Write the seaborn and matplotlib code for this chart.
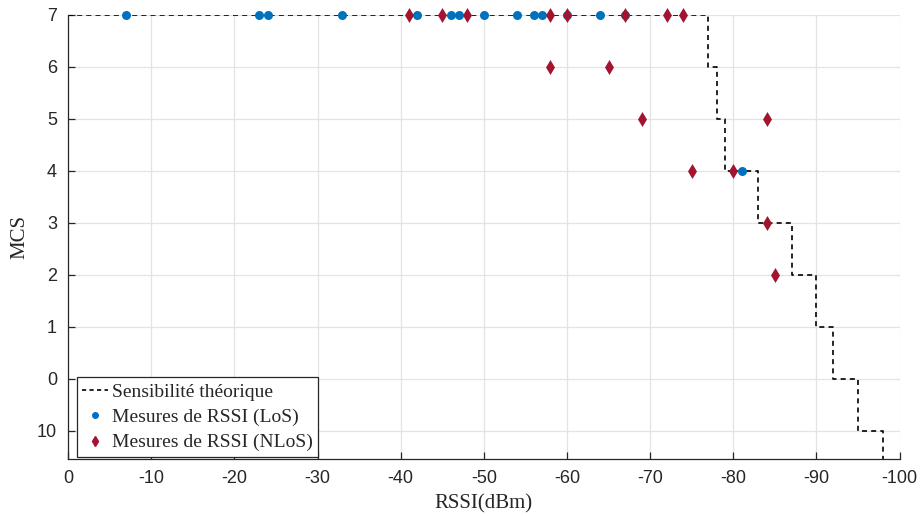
import matplotlib
matplotlib.use("Agg")
import matplotlib.pyplot as plt
import seaborn as sns
import pandas as pd
from matplotlib.lines import Line2D

# Theoretical sensitivity steps (RSSI threshold, MCS level index)
sens_rssi = [0, -77, -78, -79, -83, -87, -90, -92, -95, -98]
sens_mcs = [7, 6, 5, 4, 3, 2, 1, 0, -1, -1.6]

# LoS measurements
los_rssi = [-7, -23, -24, -33, -42, -46, -47, -50, -54, -56, -57, -60, -64, -67, -81]
los_mcs = [7, 7, 7, 7, 7, 7, 7, 7, 7, 7, 7, 7, 7, 7, 4]

# NLoS measurements
nlos_rssi = [-41, -45, -48, -58, -60, -67, -72, -74, -58, -65, -69, -84, -75, -80, -84, -85]
nlos_mcs = [7, 7, 7, 7, 7, 7, 7, 7, 6, 6, 5, 5, 4, 4, 3, 2]

xticks = [0, -10, -20, -30, -40, -50, -60, -70, -80, -90, -100]
yticks = [-1, 0, 1, 2, 3, 4, 5, 6, 7]
ytick_labels = ["10", "0", "1", "2", "3", "4", "5", "6", "7"]

BLUE = "#0072BD"
RED = "#A2142F"

sns.set_theme(style="white")
plt.rcParams["font.family"] = ["Liberation Sans", "DejaVu Sans"]

fig = plt.figure(figsize=(9.23, 5.16), dpi=100)
ax = fig.add_axes([0.0737, 0.110, 0.901, 0.861])

df_sens = pd.DataFrame({"rssi": sens_rssi, "mcs": sens_mcs})
df_los = pd.DataFrame({"rssi": los_rssi, "mcs": los_mcs})
df_nlos = pd.DataFrame({"rssi": nlos_rssi, "mcs": nlos_mcs})

sns.lineplot(data=df_sens, x="rssi", y="mcs", sort=False, ax=ax,
             drawstyle="steps-post", color="black", linewidth=1.2,
             linestyle=(0, (3, 2.5)), estimator=None, clip_on=True, zorder=2)
sns.scatterplot(data=df_los, x="rssi", y="mcs", ax=ax, color=BLUE, marker="o",
                s=42, edgecolor=BLUE, linewidth=0, clip_on=False, zorder=3)
sns.scatterplot(data=df_nlos, x="rssi", y="mcs", ax=ax, color=RED, marker="d",
                s=58, edgecolor=RED, linewidth=0, clip_on=False, zorder=4)

ax.set_xlim(0, -100)
ax.set_ylim(-1.55, 7)
ax.set_xticks(xticks)
ax.set_xticklabels([str(v) for v in xticks])
ax.set_yticks(yticks)
ax.set_yticklabels(ytick_labels)

ax.grid(True, color="#e3e3e3", linewidth=0.9)
ax.set_axisbelow(True)
for side in ["top", "right"]:
    ax.spines[side].set_visible(False)
for side in ["left", "bottom"]:
    ax.spines[side].set_color("#262626")
    ax.spines[side].set_linewidth(0.9)

ax.tick_params(axis="both", direction="in", length=5, width=0.9,
               colors="#262626", labelsize=13, labelcolor="#262626",
               left=True, bottom=True, pad=8)

serif = ["Liberation Serif", "DejaVu Serif"]
ax.set_xlabel("RSSI(dBm)", fontsize=15, family=serif, color="#262626", labelpad=5)
ax.set_ylabel("MCS", fontsize=15, family=serif, color="#262626", labelpad=5)

handles = [
    Line2D([], [], color="black", linestyle=(0, (2.5, 2)), linewidth=1.2),
    Line2D([], [], color=BLUE, marker="o", linestyle="none", markersize=4),
    Line2D([], [], color=RED, marker="d", linestyle="none", markersize=5),
]
labels = ["Sensibilité théorique", "Mesures de RSSI (LoS)", "Mesures de RSSI (NLoS)"]
leg = ax.legend(handles, labels, loc="lower left", bbox_to_anchor=(0.008, 0.0),
                prop={"family": serif, "size": 14}, frameon=True, fancybox=False,
                edgecolor="#262626", framealpha=1, handlelength=1.3,
                handletextpad=0.2, borderpad=0.3, labelspacing=0.4,
                borderaxespad=0.1)
leg.get_frame().set_linewidth(0.9)

fig.savefig("out.png", dpi=100)
